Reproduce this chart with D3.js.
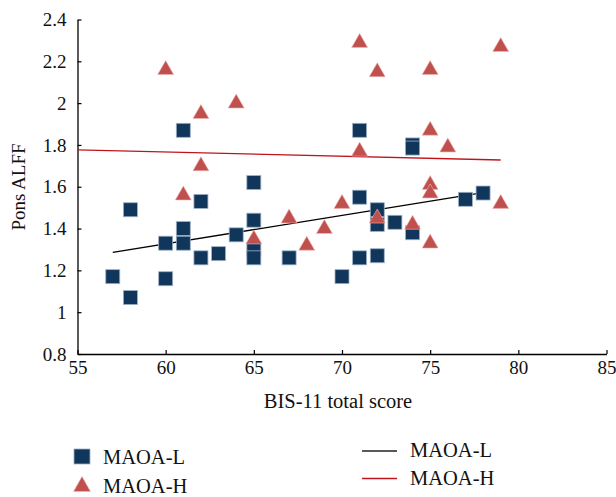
<!DOCTYPE html>
<html>
<head>
<meta charset="utf-8">
<script src="https://cdn.jsdelivr.net/npm/d3@7"></script>
<style>
  body { margin: 0; background: #fff; }
  svg { display: block; font-family: "Liberation Serif", "Times New Roman", serif; }
</style>
</head>
<body>
<div id="chart"></div>
<script>
// MAOA-L scatter (squares)
const lowScore = [57, 58, 58, 60, 60, 61, 61, 61, 62, 62, 63, 64, 65, 65, 65, 65, 67, 70, 71, 71, 71, 72, 72, 72, 73, 74, 74, 74, 77, 78];
const lowAlff  = [1.17, 1.07, 1.49, 1.33, 1.16, 1.87, 1.40, 1.33, 1.53, 1.26, 1.28, 1.37, 1.62, 1.44, 1.30, 1.26, 1.26, 1.17, 1.87, 1.55, 1.26, 1.49, 1.42, 1.27, 1.43, 1.80, 1.785, 1.38, 1.54, 1.57];

// MAOA-H scatter (triangles)
const highScore = [60, 61, 62, 62, 64, 65, 67, 68, 69, 70, 71, 71, 72, 72, 74, 75, 75, 75, 75, 75, 76, 79, 79];
const highAlff  = [2.17, 1.57, 1.96, 1.71, 2.01, 1.36, 1.46, 1.33, 1.41, 1.53, 2.30, 1.78, 2.16, 1.46, 1.43, 2.17, 1.88, 1.62, 1.58, 1.34, 1.80, 2.28, 1.53];

// fitted lines, end points
const fitLowX = [57, 78];
const fitLowY = [1.286, 1.572];
const fitHighX = [55, 79];
const fitHighY = [1.776, 1.728];

const xTicks = [55, 60, 65, 70, 75, 80, 85];
const yTicks = [0.8, 1, 1.2, 1.4, 1.6, 1.8, 2, 2.2, 2.4];

const colors = { low: "#11365c", lowEdge: "#9fb1c4", high: "#c0504d", highEdge: "#f0b8b6", fitLow: "#000000", fitHigh: "#c0141c" };

const width = 616, height = 497;
const svg = d3.select("#chart").append("svg")
  .attr("width", width)
  .attr("height", height);

const x = d3.scaleLinear().domain([55, 85]).range([77.5, 606.5]);
const y = d3.scaleLinear().domain([0.8, 2.4]).range([354, 19.5]);

// axes
const xAxis = svg.append("g")
  .attr("transform", `translate(0,${y(0.8)})`)
  .call(d3.axisBottom(x).tickValues(xTicks).tickSizeInner(-4).tickSizeOuter(0).tickPadding(7));
const yAxis = svg.append("g")
  .attr("transform", `translate(${x(55)},0)`)
  .call(d3.axisLeft(y).tickValues(yTicks).tickSizeInner(-4).tickSizeOuter(0).tickPadding(11)
    .tickFormat(d => String(+d.toFixed(1))));

[xAxis, yAxis].forEach(g => {
  g.select(".domain").attr("stroke", "#000").attr("stroke-width", 1.3);
  g.selectAll(".tick line").attr("stroke", "#000").attr("stroke-width", 1.2);
  g.selectAll(".tick text")
    .attr("fill", "#111")
    .style("font-family", "'Liberation Serif', serif")
    .style("font-size", "19px");
});

// axis titles
svg.append("text")
  .attr("x", 338)
  .attr("y", 408)
  .attr("text-anchor", "middle")
  .attr("fill", "#111")
  .style("font-size", "20.5px")
  .text("BIS-11 total score");

svg.append("text")
  .attr("transform", "translate(25,187) rotate(-90)")
  .attr("text-anchor", "middle")
  .attr("fill", "#111")
  .style("font-size", "19px")
  .text("Pons ALFF");

// trend lines
const line = d3.line().x(d => x(d[0])).y(d => y(d[1]));
svg.append("path")
  .datum(d3.zip(fitHighX, fitHighY))
  .attr("d", line)
  .attr("fill", "none")
  .attr("stroke", colors.fitHigh)
  .attr("stroke-width", 1.3);
svg.append("path")
  .datum(d3.zip(fitLowX, fitLowY))
  .attr("d", line)
  .attr("fill", "none")
  .attr("stroke", colors.fitLow)
  .attr("stroke-width", 1.3);

// markers
const sq = 14;
const triW = 16, triH = 14;
const triPath = (cx, cy, w, h) =>
  `M${cx},${cy - h / 2}L${cx + w / 2},${cy + h / 2}L${cx - w / 2},${cy + h / 2}Z`;

svg.append("g").selectAll("rect")
  .data(d3.zip(lowScore, lowAlff))
  .join("rect")
  .attr("x", d => x(d[0]) - sq / 2)
  .attr("y", d => y(d[1]) - sq / 2)
  .attr("width", sq)
  .attr("height", sq)
  .attr("fill", colors.low)
  .attr("stroke", colors.lowEdge)
  .attr("stroke-width", 0.8);

svg.append("g").selectAll("path")
  .data(d3.zip(highScore, highAlff))
  .join("path")
  .attr("d", d => triPath(x(d[0]), y(d[1]), triW, triH))
  .attr("fill", colors.high)
  .attr("stroke", colors.highEdge)
  .attr("stroke-width", 0.6);

// legend: markers
const legend = svg.append("g").style("font-size", "20.5px").attr("fill", "#111");
legend.append("rect")
  .attr("x", 74).attr("y", 449).attr("width", 16).attr("height", 15)
  .attr("fill", colors.low).attr("stroke", colors.lowEdge).attr("stroke-width", 0.8);
legend.append("text").attr("x", 103).attr("y", 464).text("MAOA-L");
legend.append("path")
  .attr("d", triPath(82, 484, 17, 15))
  .attr("fill", colors.high).attr("stroke", colors.highEdge).attr("stroke-width", 0.6);
legend.append("text").attr("x", 103).attr("y", 493).text("MAOA-H");

// legend: lines
legend.append("line")
  .attr("x1", 362).attr("x2", 397).attr("y1", 451).attr("y2", 451)
  .attr("stroke", "#222").attr("stroke-width", 1.3);
legend.append("text").attr("x", 410).attr("y", 457).text("MAOA-L");
legend.append("line")
  .attr("x1", 362).attr("x2", 397).attr("y1", 478.5).attr("y2", 478.5)
  .attr("stroke", colors.fitHigh).attr("stroke-width", 1.3);
legend.append("text").attr("x", 410).attr("y", 485).text("MAOA-H");
</script>
</body>
</html>
